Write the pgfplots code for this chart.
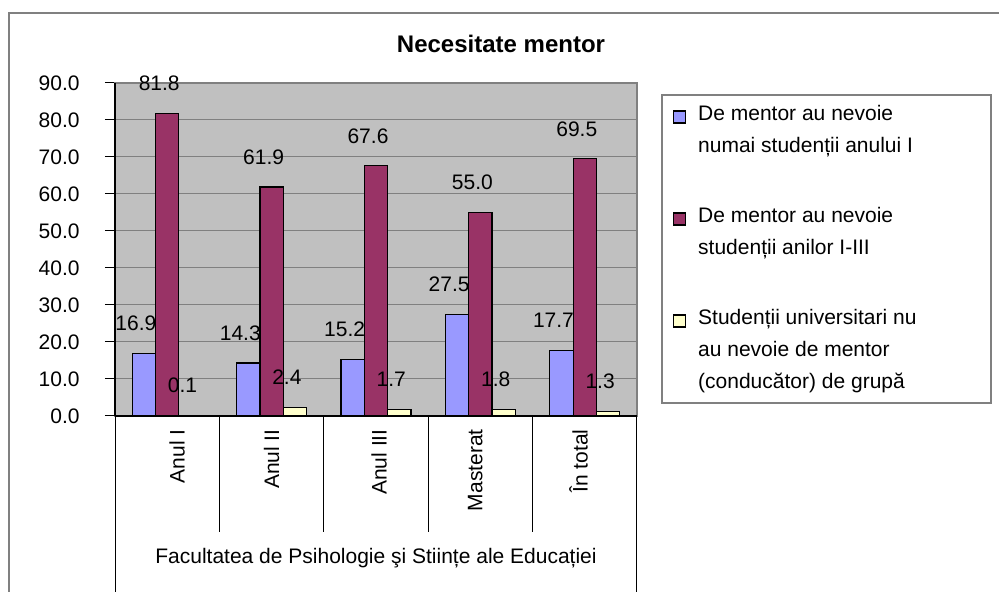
\documentclass[border=0pt]{standalone}
\usepackage{fontspec}
\setmainfont{Liberation Sans}
\usepackage{pgfplots}
\pgfplotsset{compat=1.18}
\definecolor{cBlue}{RGB}{153,153,255}
\definecolor{cMaroon}{RGB}{153,51,102}
\definecolor{cYellow}{RGB}{255,255,204}
\definecolor{cPlot}{RGB}{192,192,192}
\definecolor{cGrid}{RGB}{128,128,128}
\newcommand{\lf}{\fontsize{10.5}{16.5}\selectfont}
\newcommand{\lstrut}{\rule[-4pt]{0pt}{12.5pt}}
\newcommand{\gstrut}{\rule[-4pt]{0pt}{15.5pt}}
\begin{document}
\begin{tikzpicture}
\useasboundingbox (0,0) rectangle (499.5pt,296pt);
\draw[cGrid, line width=0.75pt] (4.5pt,-5pt) rectangle (505pt,289.5pt);
\node[font=\fontsize{12}{14}\selectfont\bfseries] at (250.5pt,274pt) {Necesitate mentor};
\begin{axis}[
  at={(57.5pt,88pt)}, anchor=south west,
  scale only axis, width=261pt, height=166.5pt,
  xmin=-0.5, xmax=4.5, ymin=0, ymax=90,
  ybar, bar width=0.2233,
  axis background/.style={fill=cPlot},
  axis line style={draw=cGrid, line width=0.6pt},
  ymajorgrids, grid style={cGrid, line width=0.5pt},
  ytick={0,10,...,90}, ytick pos=left, tick align=outside,
  major tick length=5pt, ytick style={black, line width=0.5pt},
  yticklabel style={anchor=east, inner sep=0pt, font=\lf},
  yticklabel shift=12.5pt,
  /pgf/number format/.cd, fixed, fixed zerofill, precision=1, assume math mode=true, /pgfplots/.cd,
  xtick={0.096,1,2.03,2.95,3.94},
  xticklabels={Anul I, Anul II, Anul III, Masterat, În total},
  xtick style={draw=none},
  xticklabel style={rotate=90, anchor=east, inner sep=0pt, font=\lf},
  xticklabel shift=1.5pt,
  clip=false,
  nodes near coords,
  every node near coord/.append style={font=\lf, anchor=center, yshift=15pt, xshift=-4pt, black},
  legend style={at={(1.069,0.9505)}, anchor=north west, draw=none, fill=none,
    inner sep=0pt, outer sep=0pt, row sep=2pt, column sep=4pt,
    cells={anchor=base west, inner sep=0pt, font=\lf}},
  legend image code/.code={\draw[#1, line width=0.6pt] (0pt,-1.25pt) rectangle (6pt,4.75pt);},
]
\addplot[draw=black, line width=0.6pt, fill=cBlue, bar shift=-0.2233, forget plot] coordinates {(0,16.9) (1,14.3) (2,15.2) (3,27.5) (4,17.7)};
\addplot[draw=black, line width=0.6pt, fill=cMaroon, bar shift=0, forget plot] coordinates {(0,81.8) (1,61.9) (2,67.6) (3,55.0) (4,69.5)};
\addplot[draw=black, line width=0.6pt, fill=cYellow, bar shift=0.2233, forget plot] coordinates {(0,0.1) (1,2.4) (2,1.7) (3,1.8) (4,1.3)};
\addlegendimage{draw=black, fill=cBlue}
\addlegendentry{\lstrut De mentor au nevoie}
\addlegendimage{empty legend}
\addlegendentry{\lstrut numai studenții anului I}
\addlegendimage{empty legend}
\addlegendentry{\gstrut}
\addlegendimage{draw=black, fill=cMaroon}
\addlegendentry{\lstrut De mentor au nevoie}
\addlegendimage{empty legend}
\addlegendentry{\lstrut studenții anilor I-III}
\addlegendimage{empty legend}
\addlegendentry{\gstrut}
\addlegendimage{draw=black, fill=cYellow}
\addlegendentry{\lstrut Studenții universitari nu}
\addlegendimage{empty legend}
\addlegendentry{\lstrut au nevoie de mentor}
\addlegendimage{empty legend}
\addlegendentry{\lstrut (conducător) de grupă}
\draw[black, line width=0.6pt] (rel axis cs:0,0) -- (rel axis cs:0,1);
\draw[black, line width=0.6pt] (rel axis cs:0,0) -- (rel axis cs:1,0);
\draw[black, line width=0.5pt] (axis cs:0.5,0) -- ++(0pt,-58pt);
\draw[black, line width=0.5pt] (axis cs:1.5,0) -- ++(0pt,-58pt);
\draw[black, line width=0.5pt] (axis cs:2.5,0) -- ++(0pt,-58pt);
\draw[black, line width=0.5pt] (axis cs:3.5,0) -- ++(0pt,-58pt);
\draw[black, line width=0.5pt] (rel axis cs:0,0) -- ++(0pt,-95pt);
\draw[black, line width=0.5pt] (rel axis cs:1,0) -- ++(0pt,-95pt);
\node[font=\lf] at ([yshift=-71pt]rel axis cs:0.5,0) {Facultatea de Psihologie şi Stiințe ale Educației};
\end{axis}
\draw[cGrid, line width=0.6pt] (331pt,94.5pt) rectangle (495.5pt,248.5pt);
\end{tikzpicture}
\end{document}
